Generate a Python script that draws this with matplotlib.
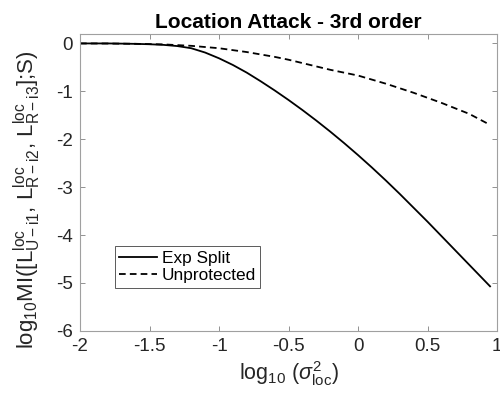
import numpy as np
import matplotlib
matplotlib.use('Agg')
import matplotlib.pyplot as plt

plt.rcParams['font.family'] = ['Liberation Sans', 'DejaVu Sans']
plt.rcParams['mathtext.fontset'] = 'custom'
plt.rcParams['mathtext.rm'] = 'Liberation Sans'
plt.rcParams['mathtext.it'] = 'Liberation Sans:italic'
plt.rcParams['axes.unicode_minus'] = False

# log10 sigma^2 values
x_split = [-2.0, -1.9, -1.8, -1.7, -1.6, -1.5, -1.4, -1.3, -1.2, -1.1, -1.0,
           -0.9, -0.8, -0.7, -0.6, -0.5, -0.4, -0.3, -0.2, -0.1, 0.0,
           0.1, 0.2, 0.3, 0.4, 0.5, 0.6, 0.7, 0.8, 0.9, 0.95]
y_split = [0.0, 0.0, 0.0, -0.004, -0.009, -0.017, -0.03, -0.055, -0.10, -0.19, -0.31,
           -0.45, -0.61, -0.79, -0.98, -1.18, -1.39, -1.61, -1.84, -2.08, -2.33,
           -2.59, -2.86, -3.14, -3.43, -3.72, -4.02, -4.32, -4.62, -4.92, -5.07]

x_unprot = [-2.0, -1.8, -1.6, -1.4, -1.2, -1.0, -0.9, -0.8, -0.7, -0.6, -0.5,
            -0.4, -0.3, -0.2, -0.1, 0.0, 0.2, 0.4, 0.6, 0.8, 0.95]
y_unprot = [0.0, -0.002, -0.008, -0.02, -0.05, -0.10, -0.14, -0.18, -0.23, -0.28, -0.34,
            -0.41, -0.48, -0.55, -0.61, -0.67, -0.84, -1.03, -1.24, -1.47, -1.70]

xticks = [-2, -1.5, -1, -0.5, 0, 0.5, 1]
xticklabels = ['-2', '-1.5', '-1', '-0.5', '0', '0.5', '1']
yticks = [-6, -5, -4, -3, -2, -1, 0]
yticklabels = ['-6', '-5', '-4', '-3', '-2', '-1', '0']

fig = plt.figure(figsize=(5, 4.03), dpi=100)
ax = fig.add_axes([0.16, 0.179, 0.834, 0.737])

ax.plot(x_split, y_split, color='black', linewidth=1.3, label='Exp Split')
ax.plot(x_unprot, y_unprot, color='black', linewidth=1.3, linestyle=(0, (3.7, 2.3)),
        label='Unprotected')

ax.set_xlim(-2, 1)
ax.set_ylim(-6, 0.2)
ax.set_xticks(xticks)
ax.set_xticklabels(xticklabels)
ax.set_yticks(yticks)
ax.set_yticklabels(yticklabels)

grey = '#262626'
for s in ax.spines.values():
    s.set_color('#a0a0a0')
    s.set_linewidth(0.8)
ax.tick_params(direction='in', top=True, right=True, length=3.5, width=0.6,
               color='#808080', labelsize=13.5, labelcolor=grey, pad=5)

ax.set_title('Location Attack - 3rd order', fontsize=15, fontweight='bold', pad=4)
ax.set_xlabel(r'log$_{10}$ ($\sigma^2_{\rm loc}$)', fontsize=15.5, color=grey, labelpad=3)
ax.set_ylabel(r'log$_{10}$MI([L$^{\rm loc}_{\rm U-i1}$, L$^{\rm loc}_{\rm R-i2}$, '
              r'L$^{\rm loc}_{\rm R-i3}$];S)', fontsize=16, color=grey)
ax.yaxis.set_label_coords(-0.089, 0.44)

leg = ax.legend(loc='lower left', bbox_to_anchor=(0.084, 0.145), borderaxespad=0,
                fontsize=12.4, fancybox=False, framealpha=1, handlelength=2.2,
                handletextpad=0.25, borderpad=0.25, labelspacing=0.15)
leg.get_frame().set_edgecolor('#404040')
leg.get_frame().set_linewidth(0.6)

fig.savefig('out.png', dpi=100)
plt.close(fig)
